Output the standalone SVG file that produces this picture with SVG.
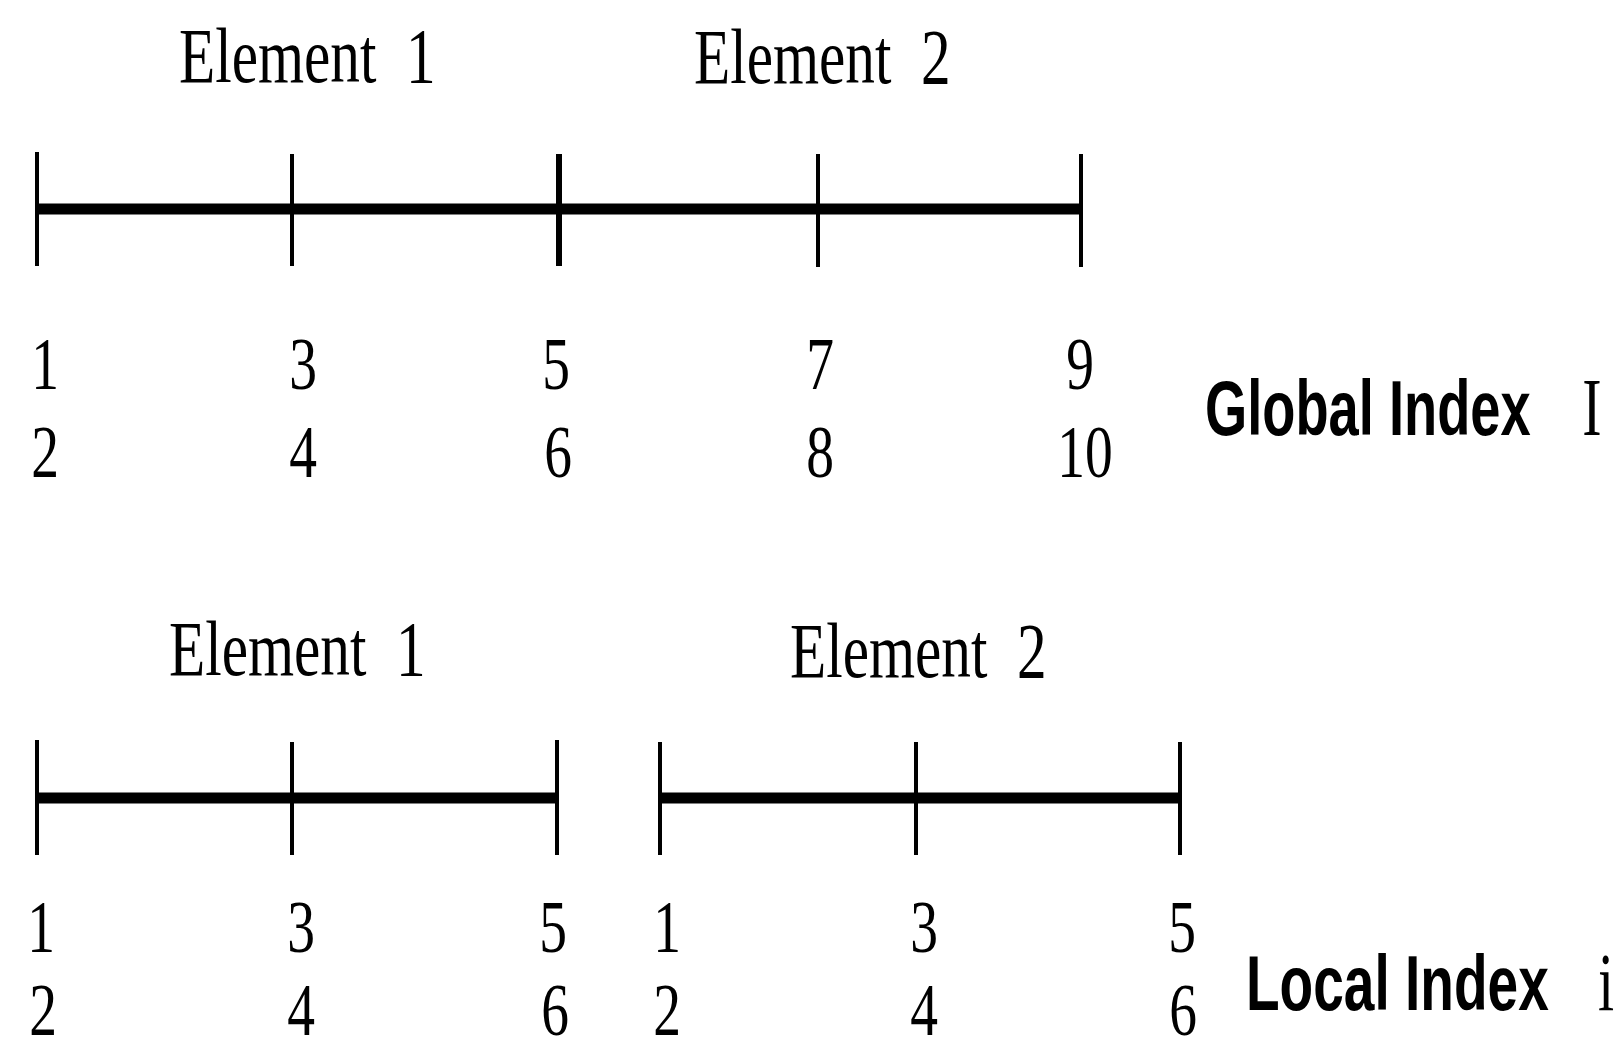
<svg xmlns="http://www.w3.org/2000/svg" width="1615" height="1041" viewBox="0 0 1615 1041">
<style>
.ser{font-family:"Liberation Serif","Times New Roman",serif;fill:#000}
.lbl{font-size:79px}
.dig{font-size:74px;text-anchor:middle}
.san{font-family:"Liberation Sans",Arial,sans-serif;font-weight:bold;font-size:77px;fill:#000}
.sym{font-size:83px;text-anchor:middle}
.axis{stroke:#000;stroke-width:11;fill:none}
.tick{stroke:#000;stroke-width:4;fill:none}
</style>
<rect width="1615" height="1041" fill="#fff"/>
<g id="connectors">
  <line class="axis" x1="37" y1="209" x2="1081" y2="209"/>
  <line class="axis" x1="37" y1="798" x2="557" y2="798"/>
  <line class="axis" x1="660" y1="798" x2="1180" y2="798"/>
</g>
<g id="global-axis">
  <line class="tick" x1="37" y1="152" x2="37" y2="266"/>
  <line class="tick" x1="292" y1="154" x2="292" y2="266"/>
  <line class="tick" x1="559" y1="154" x2="559" y2="266" style="stroke-width:6"/>
  <line class="tick" x1="818" y1="154" x2="818" y2="267"/>
  <line class="tick" x1="1081" y1="154" x2="1081" y2="267"/>
</g>
<g id="local-axis-1">
  <line class="tick" x1="37" y1="740" x2="37" y2="855"/>
  <line class="tick" x1="292" y1="742" x2="292" y2="855"/>
  <line class="tick" x1="557" y1="740" x2="557" y2="855"/>
</g>
<g id="local-axis-2">
  <line class="tick" x1="660" y1="742" x2="660" y2="855"/>
  <line class="tick" x1="916" y1="742" x2="916" y2="855"/>
  <line class="tick" x1="1180" y1="742" x2="1180" y2="855"/>
</g>
<g id="global-labels">
  <text class="ser lbl" transform="translate(179,82) scale(0.75,1)">Element&#160; 1</text>
  <text class="ser lbl" transform="translate(694,83) scale(0.75,1)">Element&#160; 2</text>
  <text class="ser dig" transform="translate(45,389) scale(0.75,1)">1</text>
  <text class="ser dig" transform="translate(303,389) scale(0.75,1)">3</text>
  <text class="ser dig" transform="translate(556,389) scale(0.75,1)">5</text>
  <text class="ser dig" transform="translate(820,389) scale(0.75,1)">7</text>
  <text class="ser dig" transform="translate(1080,389) scale(0.75,1)">9</text>
  <text class="ser dig" transform="translate(45,477) scale(0.75,1)">2</text>
  <text class="ser dig" transform="translate(303,477) scale(0.75,1)">4</text>
  <text class="ser dig" transform="translate(558,477) scale(0.75,1)">6</text>
  <text class="ser dig" transform="translate(820,477) scale(0.75,1)">8</text>
  <text class="ser dig" transform="translate(1085,477) scale(0.75,1)">10</text>
  <text class="san" transform="translate(1205,435) scale(0.705,1)">Global Index</text>
  <text class="ser sym" transform="translate(1592,435) scale(0.7,1)">I</text>
</g>
<g id="local-labels">
  <text class="ser lbl" transform="translate(169,675) scale(0.75,1)">Element&#160; 1</text>
  <text class="ser lbl" transform="translate(790,677) scale(0.75,1)">Element&#160; 2</text>
  <text class="ser dig" transform="translate(41,952) scale(0.75,1)">1</text>
  <text class="ser dig" transform="translate(301,952) scale(0.75,1)">3</text>
  <text class="ser dig" transform="translate(553,952) scale(0.75,1)">5</text>
  <text class="ser dig" transform="translate(667,952) scale(0.75,1)">1</text>
  <text class="ser dig" transform="translate(924,952) scale(0.75,1)">3</text>
  <text class="ser dig" transform="translate(1182,952) scale(0.75,1)">5</text>
  <text class="ser dig" transform="translate(43,1035) scale(0.75,1)">2</text>
  <text class="ser dig" transform="translate(301,1035) scale(0.75,1)">4</text>
  <text class="ser dig" transform="translate(555,1035) scale(0.75,1)">6</text>
  <text class="ser dig" transform="translate(667,1035) scale(0.75,1)">2</text>
  <text class="ser dig" transform="translate(924,1035) scale(0.75,1)">4</text>
  <text class="ser dig" transform="translate(1183,1035) scale(0.75,1)">6</text>
  <text class="san" transform="translate(1246,1010) scale(0.715,1)">Local Index</text>
  <text class="ser sym" transform="translate(1606,1010) scale(0.7,1)">i</text>
</g>
</svg>
